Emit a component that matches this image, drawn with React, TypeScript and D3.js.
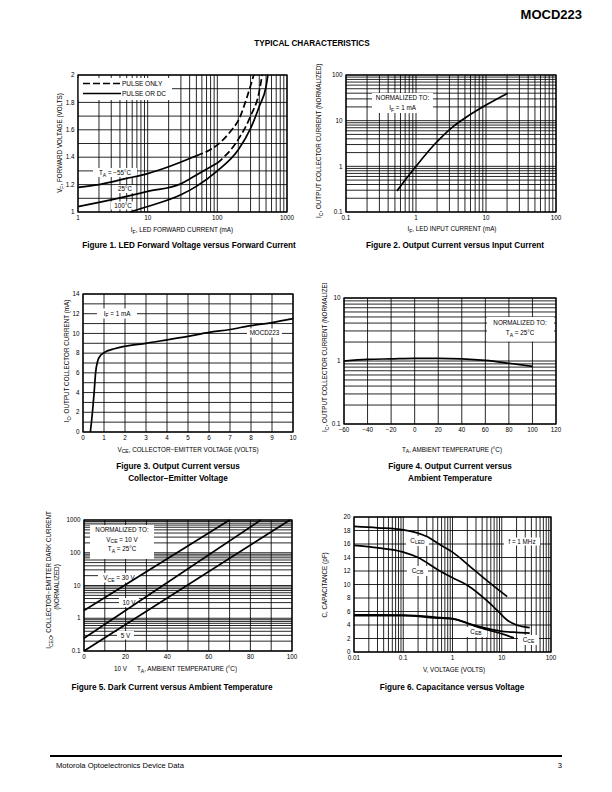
import React from "react";
import * as d3 from "d3";

const FONT = "'Liberation Sans', Arial, Helvetica, sans-serif";

// ── Figure 1: VF vs IF ──
const fig1XTicks = [1, 10, 100, 1000];
const fig1YTicks = [1, 1.2, 1.4, 1.6, 1.8, 2];
const fig1Neg55 = [[1, 1.18], [2, 1.2], [5, 1.245], [10, 1.28], [20, 1.33], [50, 1.41], [100, 1.49], [150, 1.58], [214, 1.7], [267, 1.84], [334, 2.0]];
const fig1T25 = [[1, 1.04], [2, 1.07], [5, 1.114], [10, 1.15], [30, 1.206], [50, 1.27], [100, 1.357], [200, 1.53], [300, 1.7], [400, 1.88], [440, 2.0]];
const fig1T100 = [[5.6, 1.0], [10, 1.04], [30, 1.126], [50, 1.187], [100, 1.3], [200, 1.454], [300, 1.61], [400, 1.77], [500, 1.915], [532, 2.0]];
const fig1DashFrom = [50, 100, Infinity];

// ── Figure 2: IC vs IF (normalized) ──
const fig2XTicks = [0.1, 1, 10, 100];
const fig2YTicks = [0.1, 1, 10, 100];
const fig2Curve = [[0.535, 0.29], [1, 1.0], [1.83, 3.0], [3.16, 6.8], [5.47, 12.5], [10, 22], [20.4, 40]];

// ── Figure 3: IC vs VCE ──
const fig3XTicks = [0, 1, 2, 3, 4, 5, 6, 7, 8, 9, 10];
const fig3YTicks = [0, 2, 4, 6, 8, 10, 12, 14];
const fig3Curve = [[0.35, 0], [0.45, 2], [0.53, 4], [0.6, 6], [0.7, 7.2], [0.85, 7.8], [1, 8.05], [1.5, 8.45], [2, 8.7], [3, 9.0], [4, 9.35], [5, 9.7], [6, 10.1], [7, 10.4], [8, 10.8], [9, 11.1], [10, 11.5]];

// ── Figure 4: IC vs TA (normalized) ──
const fig4XTicks = [-60, -40, -20, 0, 20, 40, 60, 80, 100, 120];
const fig4YTicks = [0.1, 1, 10];
const fig4Curve = [[-60, 1.0], [-40, 1.06], [-20, 1.08], [0, 1.1], [20, 1.1], [40, 1.08], [60, 1.02], [80, 0.92], [100, 0.82]];

// ── Figure 5: dark current vs TA ──
const fig5XTicks = [0, 20, 40, 60, 80, 100];
const fig5YTicks = [0.1, 1, 10, 100, 1000];
const fig5Vce30 = [[0, 1.72], [70, 1000]];
const fig5Vce10 = [[0, 0.244], [85, 1000]];
const fig5Vce5 = [[0, 0.1], [99, 1000]];

// ── Figure 6: capacitance vs voltage ──
const fig6XTicks = [0.01, 0.1, 1, 10, 100];
const fig6YTicks = [0, 2, 4, 6, 8, 10, 12, 14, 16, 18, 20];
const fig6CLED = [[0.01, 18.6], [0.03, 18.4], [0.1, 18.1], [0.3, 17.1], [0.56, 15.9], [1, 14.8], [2.7, 12.2], [5.8, 10.2], [12.9, 8.2]];
const fig6CCB = [[0.01, 15.8], [0.025, 15.5], [0.1, 14.8], [0.2, 14.0], [0.5, 12.2], [1, 11.0], [2, 9.9], [5, 7.6], [8, 6.2], [13, 4.7], [20, 4.0], [37, 3.6]];
const fig6CEB = [[0.01, 5.4], [0.1, 5.4], [0.56, 5.0], [1, 4.9], [2.7, 3.9], [5, 3.3], [10, 2.7], [17.6, 2.1]];
const fig6CCE = [[0.01, 5.5], [0.1, 5.45], [0.56, 5.1], [1, 4.95], [2.7, 4.0], [5, 3.5], [9.4, 3.1], [20, 2.9], [37, 2.8]];

const fmt = (v: number) => (v < 0 ? "\u2212" + Math.abs(v) : String(v));

// text with _{sub} markup
function Rich({ s, size }: { s: string; size: number }) {
  const parts = s.split(/(_\{[^}]*\})/).filter((p) => p);
  let shifted = false;
  return (
    <>
      {parts.map((p, i) => {
        if (p.startsWith("_{")) {
          shifted = true;
          return (
            <tspan key={i} dy={size * 0.3} fontSize={size * 0.8}>
              {p.slice(2, -1)}
            </tspan>
          );
        }
        const dy = shifted ? -size * 0.3 : 0;
        shifted = false;
        return (
          <tspan key={i} dy={dy}>
            {p}
          </tspan>
        );
      })}
    </>
  );
}

function T({ x, y, s, size = 6.3, anchor = "middle", bold = false, rotate = false }: any) {
  return (
    <text
      x={rotate ? 0 : x}
      y={rotate ? 0 : y}
      transform={rotate ? `translate(${x},${y}) rotate(-90)` : undefined}
      fontSize={size}
      textAnchor={anchor}
      fontWeight={bold ? "bold" : "normal"}
      fill="#000"
    >
      <Rich s={s} size={size} />
    </text>
  );
}

const Box = ({ b }: { b: number[] }) => (
  <rect x={b[0]} y={b[1]} width={b[2] - b[0]} height={b[3] - b[1]} fill="#fff" />
);

function Panel({ xs, ys, xGrid, yGrid, xTicks, yTicks, children }: any) {
  const [xa, xb] = xs.range();
  const [yb, ya] = ys.range(); // yb bottom, ya top
  return (
    <g>
      <g stroke="#000" strokeWidth={0.85}>
        {xGrid.map((v: number, i: number) => (
          <line key={"x" + i} x1={xs(v)} x2={xs(v)} y1={ya} y2={yb} />
        ))}
        {yGrid.map((v: number, i: number) => (
          <line key={"y" + i} x1={xa} x2={xb} y1={ys(v)} y2={ys(v)} />
        ))}
      </g>
      {children}
      <rect x={xa} y={ya} width={xb - xa} height={yb - ya} fill="none" stroke="#000" strokeWidth={1.3} />
      <g fontSize={6.3}>
        {xTicks.map((v: number, i: number) => (
          <text key={"xt" + i} x={xs(v)} y={yb + 8} textAnchor="middle">
            {fmt(v)}
          </text>
        ))}
        {yTicks.map((v: number, i: number) => (
          <text key={"yt" + i} x={xa - 3.5} y={ys(v) + 2.2} textAnchor="end">
            {fmt(v)}
          </text>
        ))}
      </g>
    </g>
  );
}

function curve(xs: any, ys: any, pts: number[][]) {
  return d3
    .line<number[]>()
    .x((d) => xs(d[0]))
    .y((d) => ys(d[1]))
    .curve(d3.curveMonotoneX)(pts) as string;
}

export default function App() {
  // scales
  const x1 = d3.scaleLog().domain([1, 1000]).range([78, 287]);
  const y1 = d3.scaleLinear().domain([1, 2]).range([212, 75]);
  const x2 = d3.scaleLog().domain([0.1, 100]).range([346, 556]);
  const y2 = d3.scaleLog().domain([0.1, 100]).range([212, 75]);
  const x3 = d3.scaleLinear().domain([0, 10]).range([83, 293]);
  const y3 = d3.scaleLinear().domain([0, 14]).range([432, 294]);
  const x4 = d3.scaleLinear().domain([-60, 120]).range([344, 556]);
  const y4 = d3.scaleLog().domain([0.1, 10]).range([424, 298]);
  const x5 = d3.scaleLinear().domain([0, 100]).range([84, 292]);
  const y5 = d3.scaleLog().domain([0.1, 1000]).range([651, 520]);
  const x6 = d3.scaleLog().domain([0.01, 100]).range([354, 551]);
  const y6 = d3.scaleLinear().domain([0, 20]).range([652, 517]);

  const lw = 1.7;
  const fig1Series = [fig1Neg55, fig1T25, fig1T100];

  return (
    <svg
      width={612}
      height={792}
      viewBox="0 0 612 792"
      style={{ position: "absolute", left: 0, top: 0, background: "#fff" }}
      fontFamily={FONT}
    >
      <rect width={612} height={792} fill="#fff" />

      {/* page header */}
      <text x={582} y={18.5} textAnchor="end" fontSize={13} fontWeight={900}>
        MOCD223
      </text>
      <T x={312} y={46} s="TYPICAL CHARACTERISTICS" size={8.2} bold />

      {/* Figure 1 */}
      <Panel xs={x1} ys={y1} xGrid={x1.ticks()} yGrid={y1.ticks(10)} xTicks={fig1XTicks} yTicks={fig1YTicks}>
        <Box b={[78, 78, 172, 100]} />
        <Box b={[93, 168, 137, 177]} />
        <Box b={[115, 185, 135, 193]} />
        <Box b={[111, 201.5, 135, 209.5]} />
        {fig1Series.map((s, i) => {
          const from = fig1DashFrom[i];
          const solid = s.filter((d) => d[0] <= from);
          const dashed = s.filter((d) => d[0] >= from);
          return (
            <g key={i} fill="none" stroke="#000" strokeWidth={lw}>
              <path d={curve(x1, y1, solid)} />
              {dashed.length > 1 && <path d={curve(x1, y1, dashed)} strokeDasharray="7,3" />}
            </g>
          );
        })}
        <line x1={83} x2={121} y1={83.5} y2={83.5} stroke="#000" strokeWidth={lw} strokeDasharray="7,3" />
        <line x1={83} x2={121} y1={93.5} y2={93.5} stroke="#000" strokeWidth={lw} />
        <T x={122} y={85.8} s="PULSE ONLY" anchor="start" size={6.5} />
        <T x={122} y={95.8} s="PULSE OR DC" anchor="start" size={6.5} />
        <T x={115} y={175} s={"T_{A} = \u221255\u00b0C"} />
        <T x={125} y={191} s={"25\u00b0C"} />
        <T x={123} y={207.5} s={"100\u00b0C"} />
      </Panel>
      <T x={62} y={143} s="V_{F}, FORWARD VOLTAGE (VOLTS)" rotate />
      <T x={182} y={232} s="I_{F}, LED FORWARD CURRENT (mA)" />
      <T x={189} y={248} s="Figure 1. LED Forward Voltage versus Forward Current" size={8.2} bold />

      {/* Figure 2 */}
      <Panel xs={x2} ys={y2} xGrid={x2.ticks()} yGrid={y2.ticks()} xTicks={fig2XTicks} yTicks={fig2YTicks}>
        <Box b={[372, 93, 433, 113]} />
        <T x={402.5} y={100} s="NORMALIZED TO:" />
        <T x={402.5} y={110} s="I_{F} = 1 mA" />
        <path d={curve(x2, y2, fig2Curve)} fill="none" stroke="#000" strokeWidth={lw} />
      </Panel>
      <T x={321} y={218} s="I_{C}, OUTPUT COLLECTOR CURRENT (NORMALIZED)" rotate anchor="start" />
      <T x={452} y={231} s="I_{F}, LED INPUT CURRENT (mA)" />
      <T x={455} y={248} s="Figure 2. Output Current versus Input Current" size={8.2} bold />

      {/* Figure 3 */}
      <Panel xs={x3} ys={y3} xGrid={x3.ticks(10)} yGrid={y3.ticks(14)} xTicks={fig3XTicks} yTicks={fig3YTicks}>
        <Box b={[97, 308.5, 137, 318.5]} />
        <Box b={[247, 328.5, 282, 337.5]} />
        <T x={117} y={315.5} s="I_{F} = 1 mA" />
        <T x={264.5} y={335.3} s="MOCD223" />
        <path d={curve(x3, y3, fig3Curve)} fill="none" stroke="#000" strokeWidth={lw} />
      </Panel>
      <T x={69} y={361} s="I_{C}, OUTPUT COLLECTOR CURRENT (mA)" rotate />
      <T x={188} y={451.5} s={"V_{CE}, COLLECTOR\u2212EMITTER VOLTAGE (VOLTS)"} />
      <T x={178} y={469} s="Figure 3. Output Current versus" size={8.2} bold />
      <T x={178} y={481} s={"Collector\u2212Emitter Voltage"} size={8.2} bold />

      {/* Figure 4 */}
      <clipPath id="clip4">
        <rect x={300} y={283} width={60} height={200} />
      </clipPath>
      <Panel xs={x4} ys={y4} xGrid={x4.ticks(9)} yGrid={y4.ticks()} xTicks={fig4XTicks} yTicks={fig4YTicks}>
        <Box b={[487, 317, 554, 341.5]} />
        <T x={520} y={324.5} s="NORMALIZED TO:" />
        <T x={520} y={335} s={"T_{A} = 25\u00b0C"} />
        <path d={curve(x4, y4, fig4Curve)} fill="none" stroke="#000" strokeWidth={lw} />
      </Panel>
      <g clipPath="url(#clip4)">
        <T x={327} y={432} s="I_{C}, OUTPUT COLLECTOR CURRENT (NORMALIZED)" rotate anchor="start" />
      </g>
      <T x={452} y={451.5} s={"T_{A}, AMBIENT TEMPERATURE (\u00b0C)"} />
      <T x={450} y={469} s="Figure 4. Output Current versus" size={8.2} bold />
      <T x={450} y={481} s="Ambient Temperature" size={8.2} bold />

      {/* Figure 5 */}
      <Panel xs={x5} ys={y5} xGrid={x5.ticks(10)} yGrid={y5.ticks()} xTicks={fig5XTicks} yTicks={fig5YTicks}>
        <Box b={[90, 525, 154, 559]} />
        <Box b={[98, 573, 140, 582.5]} />
        <Box b={[119, 598, 139, 607]} />
        <Box b={[117, 631, 134, 639.5]} />
        <T x={122} y={532} s="NORMALIZED TO:" />
        <T x={122} y={541.5} s="V_{CE} = 10 V" />
        <T x={122} y={551} s={"T_{A} = 25\u00b0C"} />
        <T x={119} y={580} s="V_{CE} = 30 V" />
        <T x={129} y={604.8} s="10 V" />
        <T x={125.5} y={637.5} s="5 V" />
        {[fig5Vce30, fig5Vce10, fig5Vce5].map((s, i) => (
          <path key={i} d={curve(x5, y5, s)} fill="none" stroke="#000" strokeWidth={lw} />
        ))}
      </Panel>
      <T x={51} y={580} s={"I_{CEO}, COLLECTOR\u2212EMITTER DARK CURRENT"} rotate />
      <T x={59} y={587} s="(NORMALIZED)" rotate />
      <T x={114} y={671} s="10 V" anchor="start" />
      <T x={137} y={671} s={"T_{A}, AMBIENT TEMPERATURE (\u00b0C)"} anchor="start" />
      <T x={172} y={690} s="Figure 5. Dark Current versus Ambient Temperature" size={8.2} bold />

      {/* Figure 6 */}
      <Panel xs={x6} ys={y6} xGrid={x6.ticks()} yGrid={y6.ticks(10)} xTicks={fig6XTicks} yTicks={fig6YTicks}>
        <Box b={[406, 536, 429, 546]} />
        <Box b={[504, 537.5, 540, 545.5]} />
        <Box b={[407, 566, 428, 576]} />
        <Box b={[465, 627, 487, 637]} />
        <Box b={[518, 635, 539, 645]} />
        <T x={417.5} y={542.5} s="C_{LED}" />
        <T x={522} y={543.8} s="f = 1 MHz" />
        <T x={417.5} y={572.5} s="C_{CB}" />
        <T x={476} y={633.5} s="C_{EB}" />
        <T x={528.5} y={641.5} s="C_{CE}" />
        {[fig6CLED, fig6CCB, fig6CEB, fig6CCE].map((s, i) => (
          <path key={i} d={curve(x6, y6, s)} fill="none" stroke="#000" strokeWidth={lw} />
        ))}
      </Panel>
      <T x={327} y={585} s="C, CAPACITANCE (pF)" rotate />
      <T x={454} y={672} s="V, VOLTAGE (VOLTS)" />
      <T x={452} y={690} s="Figure 6. Capacitance versus Voltage" size={8.2} bold />

      {/* footer */}
      <line x1={50} x2={562} y1={756} y2={756} stroke="#000" strokeWidth={2} />
      <T x={56} y={768} s="Motorola Optoelectronics Device Data" size={7.6} anchor="start" />
      <T x={562} y={768} s="3" size={7.6} anchor="end" />
    </svg>
  );
}
